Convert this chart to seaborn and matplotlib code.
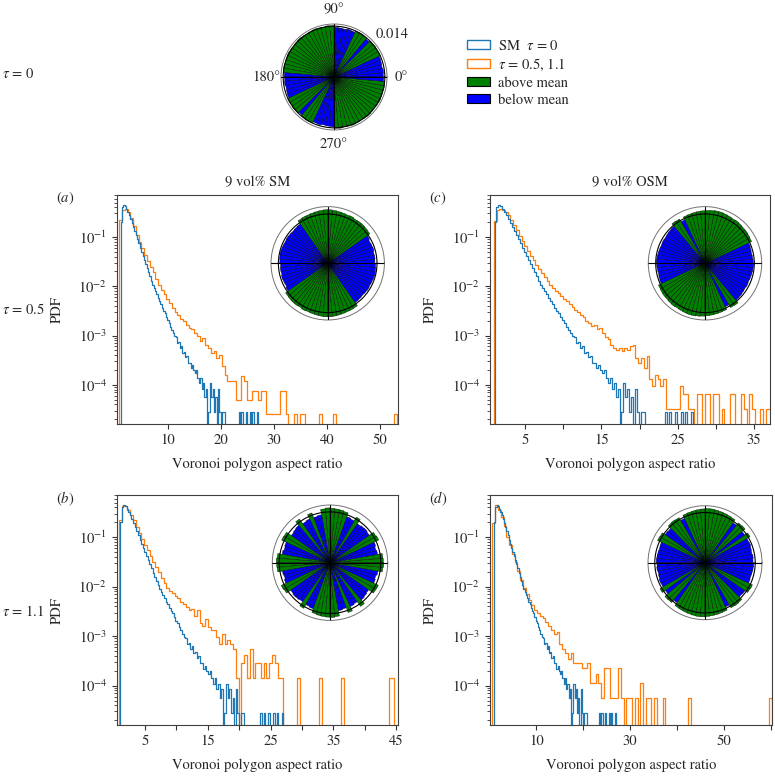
import numpy as np
import pandas as pd
import matplotlib
matplotlib.use("Agg")
import matplotlib.pyplot as plt
import seaborn as sns
from matplotlib.patches import Patch
from matplotlib.ticker import FixedLocator, LogLocator, NullFormatter

# ---------------- data ----------------
# PDF of Voronoi polygon aspect ratio (histogram bins: start, width, values)
SM0_START, SM0_WIDTH = 1.0, 0.26          # SM tau = 0 (blue, all panels)
SM0_PDF = [0.20, 0.40, 0.44, 0.42, 0.37, 0.32, 0.275, 0.23, 0.19, 0.158,
           0.132, 0.108, 0.089, 0.074, 0.060, 0.050, 0.042, 0.034, 0.028, 0.0235,
           0.019, 0.0158, 0.0129, 0.0107, 0.0091, 0.0079, 0.0068, 0.0059, 0.0050, 0.0044,
           0.0037, 0.0032, 0.0029, 0.0024, 0.00205, 0.0018, 0.00151, 0.00132, 0.00112, 0.00098,
           0.00092, 0.00070, 0.00074, 0.00056, 0.00062, 0.00045, 0.00047, 0.00036, 0.00039, 0.00028,
           0.00028, 0.00022, 0.00025, 0.00020, 0.00017, 0.00020, 0.00014, 0.00011, 0.00014, 8.4e-5,
           0.00011, 5.6e-5, 8.4e-5, 0, 2.8e-5, 0.00011, 5.6e-5, 8.4e-5, 2.8e-5, 5.6e-5,
           0, 8.4e-5, 2.8e-5, 0, 2.8e-5, 2.8e-5, 0, 0, 0, 0,
           0, 0, 0, 0, 0, 0, 2.8e-5, 0, 2.8e-5, 0,
           0, 2.8e-5, 0, 0, 2.8e-5, 0, 2.8e-5, 0, 0, 2.8e-5]

SM05_START, SM05_WIDTH = 0.75, 0.525      # (a) 9 vol% SM, tau = 0.5
SM05_PDF = [0.22, 0.36, 0.37, 0.32, 0.24, 0.166, 0.112, 0.079, 0.059, 0.044,
            0.033, 0.025, 0.019, 0.0141, 0.0107, 0.0085, 0.0068, 0.0055, 0.0045, 0.0036,
            0.0030, 0.0026, 0.0022, 0.00195, 0.00166, 0.00145, 0.00135, 0.00112, 0.0010, 0.00079,
            0.00089, 0.00063, 0.00056, 0.00045, 0.00048, 0.00035, 0.00040, 0.00024, 0.00016, 0.00012,
            0.00012, 0.00012, 5e-5, 5e-5, 1.5e-4, 1.2e-4, 5e-5, 5e-5, 7.5e-5, 7.5e-5,
            5e-5, 7.5e-5, 7.5e-5, 2.5e-5, 2.5e-5, 2.5e-5, 2.5e-5, 2.5e-5, 7.5e-5, 7.5e-5,
            2.5e-5, 0, 0, 2.5e-5, 0, 2.5e-5, 2.5e-5, 0, 0, 0,
            0, 0, 2.5e-5, 0, 0, 0, 0, 2.5e-5, 0, 0,
            0, 0, 0, 0, 0, 0, 0, 0, 0, 0,
            0, 0, 0, 0, 0, 0, 0, 0, 0, 2.5e-5]

SM11_START, SM11_WIDTH = 0.85, 0.443      # (b) 9 vol% SM, tau = 1.1
SM11_PDF = [0.22, 0.42, 0.42, 0.355, 0.28, 0.22, 0.162, 0.12, 0.091, 0.069,
            0.054, 0.042, 0.032, 0.025, 0.0195, 0.015, 0.0117, 0.0095, 0.0083, 0.0074,
            0.0066, 0.0058, 0.0050, 0.0045, 0.0038, 0.0034, 0.0036, 0.0025, 0.0033, 0.0018,
            0.0016, 0.0022, 0.0015, 0.0013, 0.0013, 0.00098, 0.0007, 0.00112, 0.0007, 0.00084,
            0.0007, 0.00056, 0.00014, 0, 0.00028, 0.00042, 0.00014, 0.00056, 0.00014, 0.00028,
            0.00028, 0.00014, 0.00028, 0.00014, 0.00028, 0.00042, 0.00028, 0.00014, 0.00014, 0,
            0, 0, 0, 0, 0.00014, 0, 0, 0, 0, 0,
            0, 0, 0.00014, 0, 0, 0, 0, 0, 0, 0,
            0.00014, 0, 0, 0, 0, 0, 0, 0, 0, 0,
            0, 0, 0, 0, 0, 0, 0, 0.00014, 0.00014, 0]

OSM05_START, OSM05_WIDTH = 0.9, 0.364     # (c) 9 vol% OSM, tau = 0.5
OSM05_PDF = [0.21, 0.36, 0.37, 0.36, 0.32, 0.275, 0.224, 0.178, 0.138, 0.107,
             0.083, 0.066, 0.052, 0.042, 0.034, 0.0275, 0.0224, 0.0182, 0.0151, 0.0126,
             0.0107, 0.0093, 0.0081, 0.0072, 0.0063, 0.0056, 0.0049, 0.0043, 0.0038, 0.0033,
             0.00295, 0.0026, 0.00234, 0.0020, 0.00178, 0.00158, 0.00166, 0.00138, 0.00145, 0.00112,
             0.00095, 0.00083, 0.00063, 0.00055, 0.0005, 0.00056, 0.00048, 0.00055, 0.0005, 0.0006,
             0.00063, 0.00035, 0.00028, 0.00035, 0.00022, 0.00038, 1.28e-4, 9.6e-5, 1.6e-4, 1.28e-4,
             9.6e-5, 1.28e-4, 3.2e-5, 3.2e-5, 3.2e-5, 3.2e-5, 3.2e-5, 9.6e-5, 6.4e-5, 6.4e-5,
             3.2e-5, 3.2e-5, 0, 6.4e-5, 6.4e-5, 0, 6.4e-5, 6.4e-5, 0, 6.4e-5,
             6.4e-5, 0, 3.2e-5, 0, 0, 6.4e-5, 6.4e-5, 0, 0, 6.4e-5,
             3.2e-5, 0, 6.4e-5, 3.2e-5, 0, 0, 3.2e-5, 0, 3.2e-5, 3.2e-5]

OSM11_START, OSM11_WIDTH = 0.6, 0.596     # (d) 9 vol% OSM, tau = 1.1
OSM11_PDF = [0.19, 0.45, 0.355, 0.25, 0.17, 0.102, 0.069, 0.046, 0.031, 0.021,
             0.0138, 0.0095, 0.0071, 0.0054, 0.0042, 0.0033, 0.0030, 0.0026, 0.0023, 0.0019,
             0.0016, 0.00132, 0.00112, 0.0012, 0.0007, 0.00056, 0.00045, 0.00034, 0.00045, 0.00028,
             0.00028, 0.00028, 0.000224, 0.000224, 0.00028, 0.000112, 0.000112, 0.000168, 0.000112, 0.000056,
             0.000224, 0.000224, 0.000056, 0.000056, 0.000056, 0.000224, 0.000056, 0, 0.000056, 0.000056,
             0, 0.000056, 0, 0.000112, 0, 0.000056, 0.000056, 0, 0.000056, 0,
             0, 0.000056, 0, 0, 0, 0, 0, 0, 0, 0,
             0.000056, 0, 0, 0, 0, 0, 0, 0, 0, 0,
             0, 0, 0, 0, 0, 0, 0, 0, 0, 0,
             0, 0, 0, 0, 0, 0, 0, 0, 0, 0.000056]

# Orientation roses: fraction per 5-degree bin over 0-180 deg (axially symmetric)
ROSE_TAU0 = [0.0136, 0.0137, 0.0135, 0.0136, 0.0137, 0.0141, 0.0140, 0.0141, 0.0140,
             0.0137, 0.0140, 0.0141, 0.0140, 0.0136, 0.0137, 0.0135, 0.0136, 0.0137,
             0.0141, 0.0142, 0.0140, 0.0141, 0.0142, 0.0141, 0.0140, 0.0141, 0.0142,
             0.0141, 0.0140, 0.0141, 0.0142, 0.0141, 0.0140, 0.0141, 0.0140, 0.0137]
ROSE_A = [0.0134, 0.0135, 0.0134, 0.0136, 0.0135, 0.0134, 0.0137,
          0.0146, 0.0147, 0.0148, 0.0148, 0.0147, 0.0149, 0.0148, 0.0149, 0.0150, 0.0151,
          0.0152, 0.0152, 0.0151, 0.0150, 0.0149, 0.0148, 0.0148, 0.0147,
          0.0136, 0.0135, 0.0134, 0.0135, 0.0136, 0.0135, 0.0136, 0.0137, 0.0138, 0.0137, 0.0136]
ROSE_B = [0.0147, 0.0146, 0.0133, 0.0131, 0.0134, 0.0148, 0.0146, 0.0132, 0.0134, 0.0133,
          0.0131, 0.0145, 0.0133, 0.0135, 0.0146, 0.0148, 0.0149, 0.0150, 0.0151, 0.0149,
          0.0134, 0.0132, 0.0146, 0.0133, 0.0131, 0.0147, 0.0134, 0.0132, 0.0130, 0.0146,
          0.0147, 0.0133, 0.0131, 0.0134, 0.0146, 0.0148]
ROSE_C = [0.0137, 0.0136, 0.0135, 0.0136, 0.0137,
          0.0146, 0.0147, 0.0148, 0.0148, 0.0149, 0.0150, 0.0149, 0.0150, 0.0151, 0.0152,
          0.0152, 0.0151, 0.0150, 0.0149, 0.0148, 0.0147, 0.0146, 0.0145,
          0.0136, 0.0145, 0.0146,
          0.0137, 0.0136, 0.0135, 0.0134, 0.0135, 0.0134, 0.0135, 0.0136, 0.0137, 0.0138]
ROSE_D = [0.0134, 0.0135, 0.0133, 0.0134, 0.0136, 0.0135, 0.0145, 0.0135, 0.0146, 0.0145,
          0.0136, 0.0146, 0.0147, 0.0148, 0.0149, 0.0150, 0.0151, 0.0151, 0.0150, 0.0149,
          0.0148, 0.0147, 0.0146, 0.0136, 0.0145, 0.0146, 0.0145, 0.0135, 0.0136, 0.0145,
          0.0146, 0.0134, 0.0133, 0.0134, 0.0135, 0.0136]
ROSE_RTICK = 0.014

PANEL_TITLES = ["9 vol% SM", "9 vol% OSM"]
ROW_LABELS = [r"$\tau$ = 0", r"$\tau$ = 0.5", r"$\tau$ = 1.1"]
LEGEND_LABELS = [r"SM  $\tau$ = 0", r"$\tau$ = 0.5, 1.1", "above mean", "below mean"]

# ---------------- style ----------------
sns.set_style("ticks")
plt.rcParams["font.family"] = ["STIXGeneral", "DejaVu Serif"]
plt.rcParams["mathtext.fontset"] = "stix"
plt.rcParams["font.size"] = 10
FS = 10.5
C_BLUE = "#1f77b4"
C_ORANGE = "#ff7f0e"

W, H = 775, 776
fig = plt.figure(figsize=(W / 100, H / 100), dpi=100)


def rect(l, t, w, h):
    return [l / W, 1 - (t + h) / H, w / W, h / H]


def draw_hist(ax, start, width, pdf, color):
    pdf = np.asarray(pdf, dtype=float)
    n = len(pdf)
    centers = start + width * (np.arange(n) + 0.5)
    df = pd.DataFrame({"x": centers, "w": pdf})
    # one empty bin on each side so the step outline rises from / drops to zero
    sns.histplot(data=df, x="x", weights="w", binwidth=width,
                 binrange=(start - width, start + width * (n + 1)), stat="count",
                 element="step", fill=False, color=color, linewidth=0.9, ax=ax)


def style_hist(ax, xlim, xticks, xlabels, letter, title=None):
    ax.set_yscale("log")
    ax.set_ylim(1.6e-5, 0.71)
    ax.set_xlim(*xlim)
    ax.set_xticks(xticks)
    ax.set_xticklabels(xlabels)
    ax.yaxis.set_major_locator(FixedLocator([1e-4, 1e-3, 1e-2, 1e-1]))
    ax.yaxis.set_minor_locator(LogLocator(base=10, subs=np.arange(2, 10) * 1.0, numticks=20))
    ax.yaxis.set_minor_formatter(NullFormatter())
    ax.tick_params(axis="both", which="major", labelsize=FS, length=3.5, width=0.8,
                   direction="out", color="0.2")
    ax.tick_params(axis="y", which="minor", length=2, width=0.6, color="0.2")
    for s in ax.spines.values():
        s.set_color("0.25")
        s.set_linewidth(0.8)
    ax.set_ylabel("PDF", fontsize=FS)
    ax.yaxis.set_label_coords(-0.19, 0.5)
    ax.set_xlabel("Voronoi polygon aspect ratio", fontsize=FS)
    ax.xaxis.set_label_coords(0.5, -0.145)
    ax.text(-0.185, 0.985, letter, transform=ax.transAxes, ha="center", va="center",
            fontsize=FS)
    if title:
        ax.text(0.5, 1.055, title, transform=ax.transAxes, ha="center", va="center",
                fontsize=FS)


def draw_rose(r, half, rmax, labels=False):
    ax = fig.add_axes(r, projection="polar")
    vals = np.concatenate([np.asarray(half), np.asarray(half)])
    n = len(vals)
    theta = np.deg2rad((np.arange(n) + 0.5) * 360.0 / n)
    width = np.deg2rad(360.0 / n)
    mean = vals.mean()
    colors = ["green" if v > mean else "blue" for v in vals]
    ax.bar(theta, vals, width=width, color=colors, edgecolor="black", linewidth=0.28)
    ax.set_ylim(0, rmax)
    ax.set_yticks([ROSE_RTICK])
    ax.set_yticklabels([])
    ax.set_xticks(np.deg2rad([0, 90, 180, 270]))
    ax.grid(True, color="black", linewidth=0.8)
    ax.set_axisbelow(False)
    ax.spines["polar"].set_color("0.45")
    ax.spines["polar"].set_linewidth(0.7)
    if labels:
        ax.set_xticklabels(["0°", "90°", "180°", "270°"], fontsize=FS)
        ax.tick_params(axis="x", pad=0)
        ax.text(np.deg2rad(36), rmax * 1.36, f"{ROSE_RTICK:.3f}", ha="center", va="center",
                fontsize=FS, clip_on=False)
    else:
        ax.set_xticklabels([])
    return ax


# ---------------- histogram panels ----------------
ax_a = fig.add_axes(rect(117, 195, 281, 229))
ax_c = fig.add_axes(rect(490, 195, 280, 229))
ax_b = fig.add_axes(rect(117, 495, 281, 230))
ax_d = fig.add_axes(rect(490, 495, 282, 230))

draw_hist(ax_a, SM05_START, SM05_WIDTH, SM05_PDF, C_ORANGE)
draw_hist(ax_a, SM0_START, SM0_WIDTH, SM0_PDF, C_BLUE)
style_hist(ax_a, (0.33, 53.5), [10, 20, 30, 40, 50], ["10", "20", "30", "40", "50"],
           r"$(a)$", PANEL_TITLES[0])

draw_hist(ax_b, SM11_START, SM11_WIDTH, SM11_PDF, C_ORANGE)
draw_hist(ax_b, SM0_START, SM0_WIDTH, SM0_PDF, C_BLUE)
style_hist(ax_b, (0.52, 45.3), [5, 10, 15, 20, 25, 30, 35, 40, 45],
           ["5", "", "15", "", "25", "", "35", "", "45"], r"$(b)$")

draw_hist(ax_c, OSM05_START, OSM05_WIDTH, OSM05_PDF, C_ORANGE)
draw_hist(ax_c, SM0_START, SM0_WIDTH, SM0_PDF, C_BLUE)
style_hist(ax_c, (0.41, 37.1), [5, 10, 15, 20, 25, 30, 35],
           ["5", "", "15", "", "25", "", "35"], r"$(c)$", PANEL_TITLES[1])

draw_hist(ax_d, OSM11_START, OSM11_WIDTH, OSM11_PDF, C_ORANGE)
draw_hist(ax_d, SM0_START, SM0_WIDTH, SM0_PDF, C_BLUE)
style_hist(ax_d, (0.1, 60.3), [10, 20, 30, 40, 50, 60],
           ["10", "", "30", "", "50", ""], r"$(d)$")

# ---------------- roses ----------------
draw_rose(rect(281, 24, 106, 106), ROSE_TAU0, 0.0146, labels=True)
draw_rose(rect(271, 206.6, 113.4, 113.4), ROSE_A, 0.0161)
draw_rose(rect(648.3, 206.6, 113.4, 113.4), ROSE_C, 0.0161)
draw_rose(rect(272.3, 505, 115.4, 115.4), ROSE_B, 0.0159)
draw_rose(rect(648, 505.7, 114, 114), ROSE_D, 0.0159)

# ---------------- row labels ----------------
for lab, y in zip(ROW_LABELS, [74, 310, 612]):
    fig.text(2 / W, 1 - y / H, lab, ha="left", va="center", fontsize=FS)

# ---------------- legend ----------------
handles = [Patch(facecolor="white", edgecolor=C_BLUE, linewidth=1.0),
           Patch(facecolor="white", edgecolor=C_ORANGE, linewidth=1.0),
           Patch(facecolor="green", edgecolor="black", linewidth=0.8),
           Patch(facecolor="blue", edgecolor="black", linewidth=0.8)]
fig.legend(handles, LEGEND_LABELS, loc="upper left", bbox_to_anchor=(467 / W, 1 - 39 / H),
           frameon=False, fontsize=FS, handlelength=1.55, handleheight=0.55,
           labelspacing=0.25, handletextpad=0.55, borderaxespad=0, borderpad=0)

fig.savefig("out.png", dpi=100)
